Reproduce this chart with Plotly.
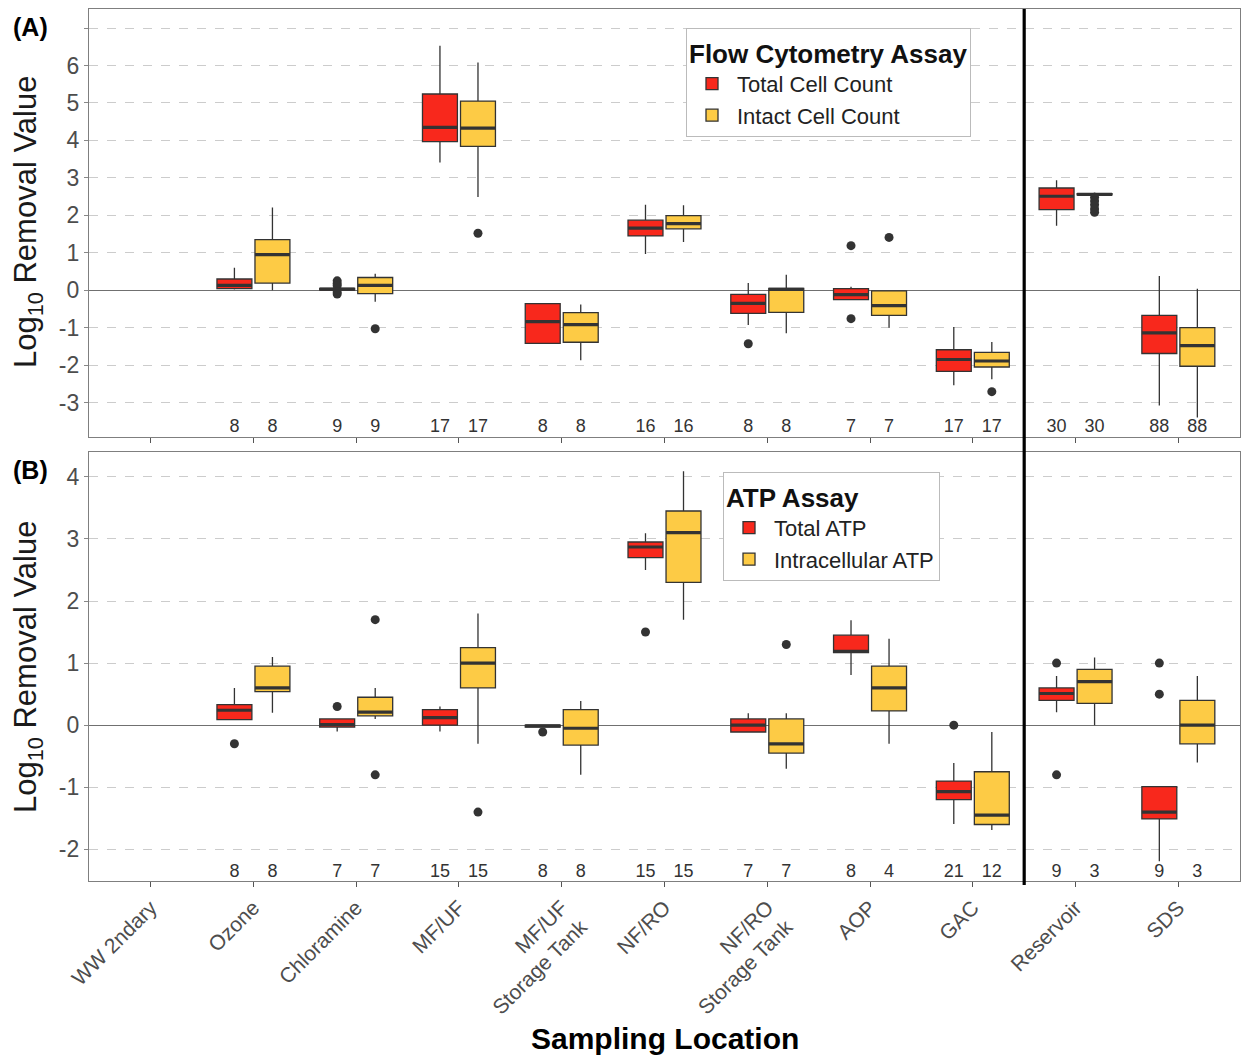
import plotly.graph_objects as go

# ---------------- data ----------------
locations = ["WW 2ndary", "Ozone", "Chloramine", "MF/UF", "MF/UF<br>Storage Tank", "NF/RO",
             "NF/RO<br>Storage Tank", "AOP", "GAC", "Reservoir", "SDS"]

# Panel A: Flow Cytometry Assay
tcc_lower  = [None, 0.02, -0.01, 3.41, -1.42, 0.97, -0.93, -0.25, -2.54, 1.72, -3.08]
tcc_q1     = [None, 0.04,  0.00, 3.97, -1.42, 1.45, -0.62, -0.25, -2.17, 2.15, -1.69]
tcc_median = [None, 0.13,  0.03, 4.35, -0.84, 1.66, -0.35, -0.12, -1.85, 2.51, -1.14]
tcc_q3     = [None, 0.30,  0.05, 5.24, -0.36, 1.87, -0.11,  0.04, -1.59, 2.73, -0.67]
tcc_upper  = [None, 0.60,  0.07, 6.53, -0.36, 2.28,  0.19,  0.09, -0.98, 2.94,  0.38]
tcc_n      = [None, 8, 9, 17, 8, 16, 8, 7, 17, 30, 88]
tcc_out_loc = ["Chloramine", "Chloramine", "Chloramine", "Chloramine", "Chloramine",
               "NF/RO<br>Storage Tank", "AOP", "AOP"]
tcc_out_val = [0.25, 0.18, 0.12, -0.05, -0.10, -1.43, 1.19, -0.76]

icc_lower  = [None, 0.00, -0.31, 2.49, -1.87, 1.29, -1.15, -1.00, -2.38, 2.55, -3.40]
icc_q1     = [None, 0.19, -0.09, 3.84, -1.39, 1.64, -0.59, -0.67, -2.05, 2.55, -2.03]
icc_median = [None, 0.95,  0.13, 4.33, -0.92, 1.78,  0.02, -0.41, -1.89, 2.56, -1.48]
icc_q3     = [None, 1.35,  0.34, 5.05, -0.60, 1.99,  0.05, -0.02, -1.66, 2.58, -1.00]
icc_upper  = [None, 2.21,  0.44, 6.08, -0.38, 2.27,  0.41, -0.02, -1.38, 2.60,  0.04]
icc_n      = [None, 8, 9, 17, 8, 16, 8, 7, 17, 30, 88]
icc_out_loc = ["Chloramine", "MF/UF", "AOP", "GAC",
               "Reservoir", "Reservoir", "Reservoir", "Reservoir", "Reservoir"]
icc_out_val = [-1.03, 1.52, 1.41, -2.71, 2.48, 2.38, 2.28, 2.17, 2.08]

# Panel B: ATP Assay
tatp_lower  = [None, 0.09, -0.10, -0.10, -0.03, 2.50, -0.11, 0.81, -1.59, 0.21, -2.19]
tatp_q1     = [None, 0.09, -0.03,  0.00, -0.03, 2.70, -0.11, 1.17, -1.20, 0.40, -1.51]
tatp_median = [None, 0.24,  0.01,  0.12, -0.01, 2.87,  0.00, 1.19, -1.07, 0.51, -1.40]
tatp_q3     = [None, 0.33,  0.10,  0.25,  0.00, 2.95,  0.10, 1.45, -0.90, 0.60, -0.99]
tatp_upper  = [None, 0.60,  0.10,  0.30,  0.00, 3.09,  0.19, 1.69, -0.61, 0.79, -0.99]
tatp_n      = [None, 8, 7, 15, 8, 15, 7, 8, 21, 9, 9]
tatp_out_loc = ["Ozone", "Chloramine", "MF/UF<br>Storage Tank", "NF/RO", "GAC",
                "Reservoir", "Reservoir", "SDS", "SDS"]
tatp_out_val = [-0.30, 0.30, -0.11, 1.50, 0.00, 1.00, -0.80, 1.00, 0.50]

iatp_lower  = [None, 0.20, 0.10, -0.30, -0.80, 1.70, -0.70, -0.30, -1.69, 0.00, -0.60]
iatp_q1     = [None, 0.54, 0.15,  0.60, -0.32, 2.30, -0.45,  0.23, -1.60, 0.35, -0.30]
iatp_median = [None, 0.60, 0.21,  1.00, -0.05, 3.10, -0.30,  0.60, -1.45, 0.70,  0.00]
iatp_q3     = [None, 0.95, 0.45,  1.25,  0.25, 3.45,  0.10,  0.95, -0.75, 0.90,  0.40]
iatp_upper  = [None, 1.10, 0.60,  1.80,  0.39, 4.09,  0.19,  1.39, -0.11, 1.09,  0.79]
iatp_n      = [None, 8, 7, 15, 8, 15, 7, 4, 12, 3, 3]
iatp_out_loc = ["Chloramine", "Chloramine", "MF/UF", "NF/RO<br>Storage Tank"]
iatp_out_val = [1.70, -0.80, -1.40, 1.30]

RED = "#F8281C"
YEL = "#FDCB45"
EDGE = "#333333"

# ---------------- layout constants ----------------
DODGE = 0.185
BOXW = 0.34
W, H = 1243, 1055
ML, MR, MT, MB = 89, 3, 9, 174
py0, py1 = 881, 9
def py(p):  # pixel y -> paper y
    return (py0 - p) / (py0 - py1)
def px(p):  # pixel x -> paper x
    return (p - ML) / (W - MR - ML)

pos = {loc: i for i, loc in enumerate(locations)}

fig = go.Figure()

def add_series(xa, ya, name, color, offset, lower, q1, med, q3, upper, n, out_loc, out_val,
               n_y, legend):
    idx = [i for i, v in enumerate(med) if v is not None]
    xs = [i + offset for i in idx]
    fig.add_trace(go.Box(
        x=xs, q1=[q1[i] for i in idx], median=[med[i] for i in idx], q3=[q3[i] for i in idx],
        lowerfence=[lower[i] for i in idx], upperfence=[upper[i] for i in idx],
        width=BOXW, whiskerwidth=0, fillcolor=color, line=dict(color=EDGE, width=1.3),
        boxpoints=False, name=name, xaxis=xa, yaxis=ya, legend=legend, showlegend=True))
    # thick median segments
    mx, my = [], []
    for i in idx:
        mx += [i + offset - BOXW / 2, i + offset + BOXW / 2, None]
        my += [med[i], med[i], None]
    fig.add_trace(go.Scatter(x=mx, y=my, mode="lines", line=dict(color=EDGE, width=3.2),
                             xaxis=xa, yaxis=ya, showlegend=False, hoverinfo="skip"))
    # outliers
    fig.add_trace(go.Scatter(x=[pos[l] + offset for l in out_loc], y=out_val, mode="markers",
                             marker=dict(color=EDGE, size=9), xaxis=xa, yaxis=ya,
                             showlegend=False))
    # counts
    fig.add_trace(go.Scatter(x=xs, y=[n_y] * len(xs), text=[str(n[i]) for i in idx],
                             mode="text", textfont=dict(size=18, color="#333333", family="Liberation Sans, Arial"),
                             xaxis=xa, yaxis=ya, showlegend=False, hoverinfo="skip"))

add_series("x", "y", "Total Cell Count", RED, -DODGE, tcc_lower, tcc_q1, tcc_median, tcc_q3,
           tcc_upper, tcc_n, tcc_out_loc, tcc_out_val, -3.66, "legend")
add_series("x", "y", "Intact Cell Count", YEL, DODGE, icc_lower, icc_q1, icc_median, icc_q3,
           icc_upper, icc_n, icc_out_loc, icc_out_val, -3.66, "legend")
add_series("x2", "y2", "Total ATP", RED, -DODGE, tatp_lower, tatp_q1, tatp_median, tatp_q3,
           tatp_upper, tatp_n, tatp_out_loc, tatp_out_val, -2.37, "legend2")
add_series("x2", "y2", "Intracellular ATP", YEL, DODGE, iatp_lower, iatp_q1, iatp_median, iatp_q3,
           iatp_upper, iatp_n, iatp_out_loc, iatp_out_val, -2.37, "legend2")

FONT = "Liberation Sans, Arial, sans-serif"
xcommon = dict(range=[-0.6, len(locations) - 0.4], tickvals=list(range(len(locations))),
               showgrid=False, zeroline=False, showline=True, mirror=True,
               linecolor="#7F7F7F", linewidth=1.3, ticks="outside", ticklen=5,
               tickcolor="#555555", tickwidth=1.2)
ycommon = dict(showgrid=True, gridcolor="#CCCCCC", griddash="dash", gridwidth=1,
               zeroline=True, zerolinecolor="#707070", zerolinewidth=1.2,
               showline=True, mirror=True, linecolor="#7F7F7F", linewidth=1.3,
               ticks="outside", ticklen=4, tickcolor="#888888", tickwidth=1,
               tickfont=dict(size=23, color="#4D4D4D", family=FONT))

ya_vals = list(range(-3, 8))
yb_vals = list(range(-2, 5))

legend_common = dict(xanchor="left", yanchor="top", bgcolor="white", bordercolor="#BBBBBB",
                     borderwidth=1, font=dict(size=22, color="#222222"), itemwidth=40)

fig.update_layout(
    width=W, height=H, autosize=False,
    margin=dict(l=ML, r=MR, t=MT, b=MB),
    paper_bgcolor="white", plot_bgcolor="white",
    font=dict(family=FONT),
    boxmode="overlay",
    xaxis=dict(domain=[0, 1], anchor="y", showticklabels=False, ticktext=[""] * len(locations),
               **xcommon),
    xaxis2=dict(domain=[0, 1], anchor="y2", showticklabels=True, ticktext=locations,
                tickangle=-45, tickfont=dict(size=21, color="#4D4D4D", family=FONT), **xcommon),
    yaxis=dict(domain=[py(437), 1], anchor="x", range=[-3.92, 7.51], tickvals=ya_vals,
               ticktext=[str(v) if v < 7 else "" for v in ya_vals], **ycommon),
    yaxis2=dict(domain=[0, py(452)], anchor="x2", range=[-2.51, 4.40], tickvals=yb_vals,
                ticktext=[str(v) for v in yb_vals], **ycommon),
    legend=dict(x=px(686), y=py(28),
                title=dict(text="<b>Flow Cytometry Assay</b>", font=dict(size=26, color="#111111")),
                **legend_common),
    legend2=dict(x=px(723), y=py(472),
                 title=dict(text="<b>ATP Assay</b>", font=dict(size=26, color="#111111")),
                 **legend_common),
    showlegend=True,
)

# vertical separator between GAC and Reservoir
sep_x = (pos["GAC"] + pos["Reservoir"]) / 2
fig.add_shape(type="line", xref="x2", yref="paper", x0=sep_x, x1=sep_x, y0=py(885), y1=1,
              line=dict(color="black", width=3.2), layer="above")

annos = [
    dict(text="<b>(A)</b>", x=px(30), y=py(27), font=dict(size=25, color="black")),
    dict(text="<b>(B)</b>", x=px(30), y=py(470), font=dict(size=25, color="black")),
    dict(text="Log<sub>10</sub> Removal Value", x=px(28), y=py(222), textangle=-90,
         font=dict(size=31, color="#1A1A1A")),
    dict(text="Log<sub>10</sub> Removal Value", x=px(28), y=py(667), textangle=-90,
         font=dict(size=31, color="#1A1A1A")),
    dict(text="<b>Sampling Location</b>", x=0.5, y=py(1038), font=dict(size=30, color="black")),
]
for a in annos:
    fig.add_annotation(xref="paper", yref="paper", showarrow=False, xanchor="center",
                       yanchor="middle", **a)

fig.write_html("out.html")
